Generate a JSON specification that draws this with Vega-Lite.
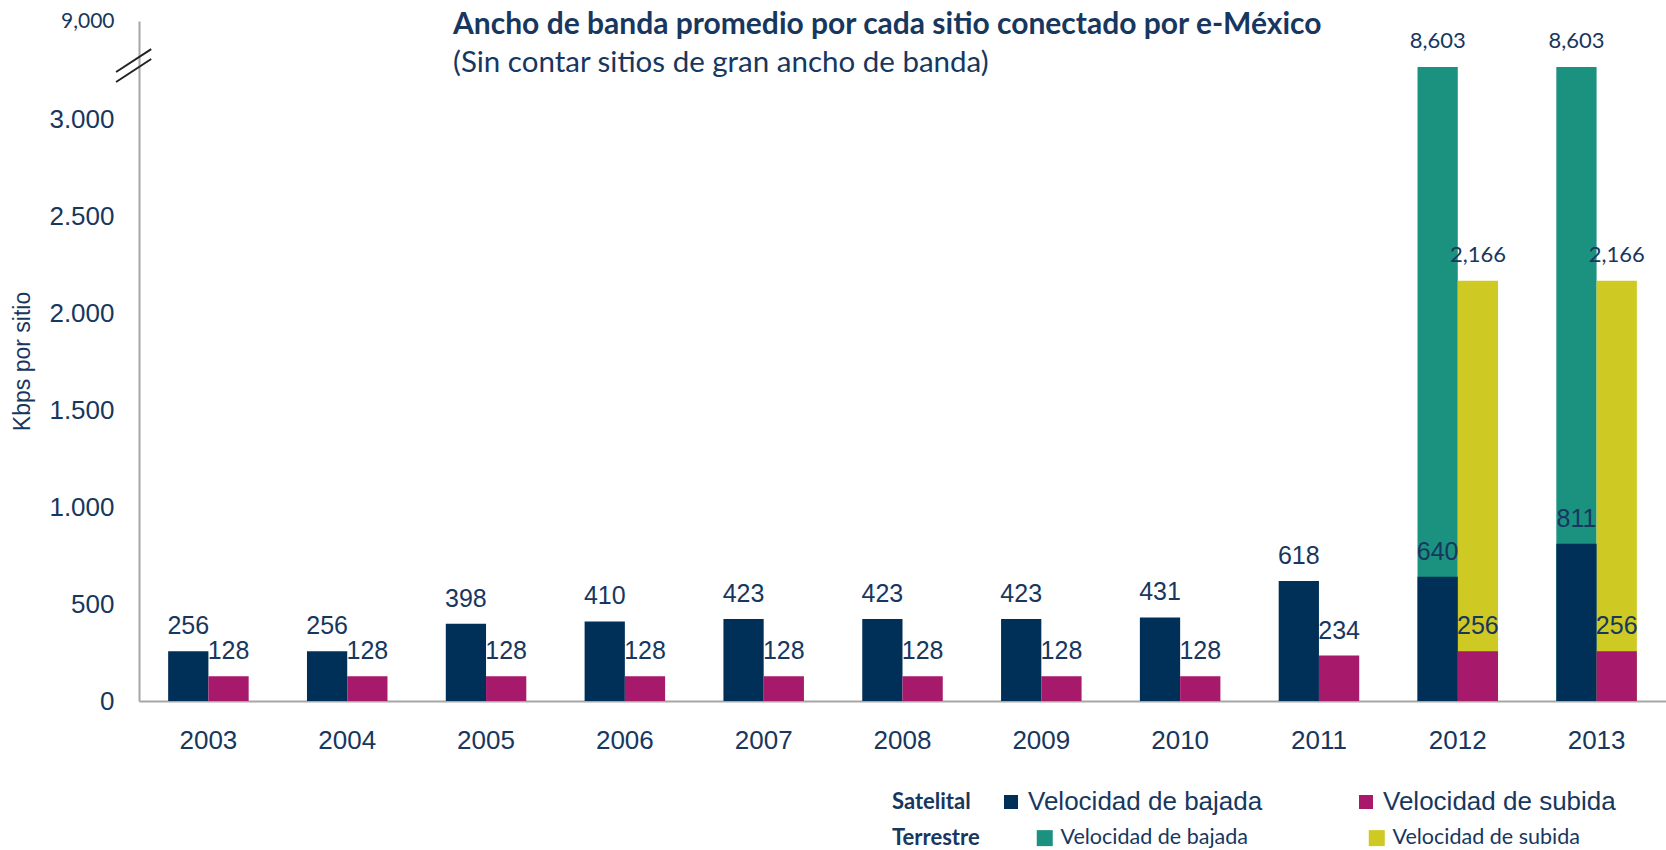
{
  "$schema": "https://vega.github.io/schema/vega-lite/v6.json",
  "width": 1527,
  "height": 680,
  "autosize": "none",
  "padding": {"left": 139, "top": 21, "right": 0, "bottom": 149},
  "background": "white",
  "title": {
    "text": "Ancho de banda promedio por cada sitio conectado por e-México",
    "subtitle": "(Sin contar sitios de gran ancho de banda)",
    "anchor": "start",
    "frame": "group",
    "orient": "top",
    "offset": 0,
    "dx": 314,
    "dy": 67,
    "font": "Lato",
    "fontSize": 30,
    "fontWeight": "bold",
    "color": "#17375E",
    "subtitleFont": "Lato",
    "subtitleFontSize": 29.5,
    "subtitleColor": "#17375E",
    "subtitlePadding": 9
  },
  "config": {
    "view": {"stroke": null},
    "axis": {"domainColor": "#A6A6A6", "domainWidth": 2, "ticks": false, "grid": false}
  },
  "layer": [
    {
      "data": {
        "values": [
          {"year": "2003", "tipo": "Satelital", "serie": "Velocidad de bajada", "value": 256},
          {"year": "2004", "tipo": "Satelital", "serie": "Velocidad de bajada", "value": 256},
          {"year": "2005", "tipo": "Satelital", "serie": "Velocidad de bajada", "value": 398},
          {"year": "2006", "tipo": "Satelital", "serie": "Velocidad de bajada", "value": 410},
          {"year": "2007", "tipo": "Satelital", "serie": "Velocidad de bajada", "value": 423},
          {"year": "2008", "tipo": "Satelital", "serie": "Velocidad de bajada", "value": 423},
          {"year": "2009", "tipo": "Satelital", "serie": "Velocidad de bajada", "value": 423},
          {"year": "2010", "tipo": "Satelital", "serie": "Velocidad de bajada", "value": 431},
          {"year": "2011", "tipo": "Satelital", "serie": "Velocidad de bajada", "value": 618},
          {"year": "2012", "tipo": "Satelital", "serie": "Velocidad de bajada", "value": 640},
          {"year": "2013", "tipo": "Satelital", "serie": "Velocidad de bajada", "value": 811},
          {"year": "2003", "tipo": "Satelital", "serie": "Velocidad de subida", "value": 128},
          {"year": "2004", "tipo": "Satelital", "serie": "Velocidad de subida", "value": 128},
          {"year": "2005", "tipo": "Satelital", "serie": "Velocidad de subida", "value": 128},
          {"year": "2006", "tipo": "Satelital", "serie": "Velocidad de subida", "value": 128},
          {"year": "2007", "tipo": "Satelital", "serie": "Velocidad de subida", "value": 128},
          {"year": "2008", "tipo": "Satelital", "serie": "Velocidad de subida", "value": 128},
          {"year": "2009", "tipo": "Satelital", "serie": "Velocidad de subida", "value": 128},
          {"year": "2010", "tipo": "Satelital", "serie": "Velocidad de subida", "value": 128},
          {"year": "2011", "tipo": "Satelital", "serie": "Velocidad de subida", "value": 234},
          {"year": "2012", "tipo": "Satelital", "serie": "Velocidad de subida", "value": 256},
          {"year": "2013", "tipo": "Satelital", "serie": "Velocidad de subida", "value": 256},
          {"year": "2012", "tipo": "Terrestre", "serie": "Velocidad de bajada", "value": 8603},
          {"year": "2013", "tipo": "Terrestre", "serie": "Velocidad de bajada", "value": 8603},
          {"year": "2012", "tipo": "Terrestre", "serie": "Velocidad de subida", "value": 2166},
          {"year": "2013", "tipo": "Terrestre", "serie": "Velocidad de subida", "value": 2166}
        ]
      },
      "encoding": {
        "x": {
          "field": "year", "type": "nominal",
          "scale": {"domain": ["2003","2004","2005","2006","2007","2008","2009","2010","2011","2012","2013"], "paddingInner": 0.42, "paddingOuter": 0.21},
          "axis": {"title": null, "labelAngle": 0, "labelFont": "Liberation Sans", "labelFontSize": 26, "labelColor": "#17375E", "labelPadding": 26}
        },
        "xOffset": {"field": "serie", "type": "nominal", "scale": {"domain": ["Velocidad de bajada", "Velocidad de subida"]}},
        "y": {
          "field": "value", "type": "quantitative",
          "scale": {"domain": [0, 3000, 8603, 9000], "range": [680, 98, 46, 0], "nice": false, "zero": false},
          "title": "Kbps por sitio",
          "axis": {
            "values": [0, 500, 1000, 1500, 2000, 2500, 3000, 9000],
            "labelExpr": "datum.value == 9000 ? '9,000' : replace(format(datum.value, ','), ',', '.')",
            "labelFont": {"condition": {"test": "datum.value == 9000", "value": "Lato"}, "value": "Liberation Sans"},
            "labelFontSize": {"condition": {"test": "datum.value == 9000", "value": 21}, "value": 26},
            "labelColor": "#17375E",
            "labelPadding": 25,
            "titleFont": "Liberation Sans",
            "titleFontSize": 23,
            "titleFontWeight": "normal",
            "titleColor": "#17375E",
            "titlePadding": 14
          }
        }
      },
      "layer": [
        {
          "transform": [{"filter": "datum.tipo == 'Terrestre'"}],
          "mark": {"type": "bar"},
          "encoding": {
            "color": {
              "field": "serie", "type": "nominal",
              "scale": {"domain": ["Velocidad de bajada", "Velocidad de subida"], "range": ["#1B9180", "#CFC923"]},
              "legend": {
                "title": "Terrestre", "orient": "none", "legendX": 753, "legendY": 806,
                "direction": "horizontal", "columns": 2, "titleOrient": "left", "titlePadding": 54,
                "titleFont": "Lato", "titleFontSize": 22, "titleFontWeight": "bold", "titleColor": "#17375E",
                "labelFont": "Lato", "labelFontSize": 21.5, "labelColor": "#17375E", "labelOffset": 5, "labelLimit": 400,
                "symbolType": "square", "symbolSize": 256, "symbolStrokeWidth": 0, "columnPadding": 118
              }
            }
          }
        },
        {
          "transform": [{"filter": "datum.tipo == 'Terrestre'"}],
          "mark": {"type": "text", "baseline": "alphabetic", "dy": -19, "font": "Lato", "fontSize": 22, "color": "#17375E"},
          "encoding": {"text": {"field": "value", "type": "quantitative", "format": ","}}
        },
        {
          "transform": [{"filter": "datum.tipo == 'Satelital'"}],
          "mark": {"type": "bar"},
          "encoding": {
            "color": {
              "field": "serie", "type": "nominal",
              "scale": {"domain": ["Velocidad de bajada", "Velocidad de subida"], "range": ["#003057", "#A6196B"]},
              "legend": {
                "title": "Satelital", "orient": "none", "legendX": 753, "legendY": 768,
                "direction": "horizontal", "columns": 2, "titleOrient": "left", "titlePadding": 27,
                "titleFont": "Lato", "titleFontSize": 22, "titleFontWeight": "bold", "titleColor": "#17375E",
                "labelFont": "Liberation Sans", "labelFontSize": 26, "labelColor": "#17375E", "labelOffset": 4, "labelLimit": 400,
                "symbolType": "square", "symbolSize": 196, "symbolStrokeWidth": 0, "columnPadding": 90
              }
            }
          }
        },
        {
          "transform": [{"filter": "datum.tipo == 'Satelital'"}],
          "mark": {"type": "text", "baseline": "alphabetic", "dy": -17, "font": "Liberation Sans", "fontSize": 25, "color": "#17375E"},
          "encoding": {"text": {"field": "value", "type": "quantitative", "format": "d"}}
        }
      ],
      "resolve": {"scale": {"color": "independent"}, "legend": {"color": "independent"}}
    },
    {
      "data": {
        "values": [
          {"bx": -0.015, "by": 8064, "bx2": 0.008, "by2": 8758},
          {"bx": -0.015, "by": 6987, "bx2": 0.008, "by2": 8672}
        ]
      },
      "mark": {"type": "rule", "color": "#222222", "strokeWidth": 2},
      "encoding": {
        "x": {"field": "bx", "type": "quantitative", "scale": {"domain": [0, 1], "nice": false, "zero": false}, "axis": null},
        "x2": {"field": "bx2"},
        "y": {"field": "by", "type": "quantitative", "title": "Kbps por sitio"},
        "y2": {"field": "by2"}
      }
    }
  ],
  "resolve": {"scale": {"x": "independent"}, "axis": {"x": "independent"}}
}
